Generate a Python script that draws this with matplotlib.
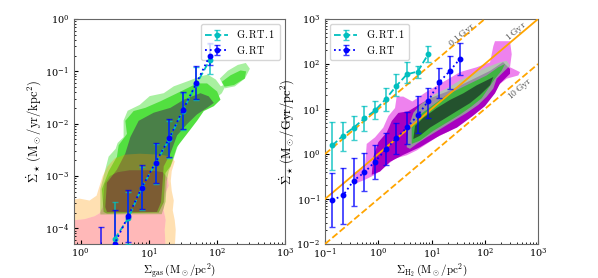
import numpy as np
import matplotlib
matplotlib.use("Agg")
import matplotlib.pyplot as plt
from matplotlib.path import Path
from matplotlib.patches import PathPatch

plt.rcParams['mathtext.fontset'] = 'cm'
plt.rcParams['font.family'] = ['serif']
plt.rcParams['font.serif'] = ['DejaVu Serif']

#################   KS relation, left panel (gas)   #################

gas_x = [2.0, 3.16, 5.0, 7.9, 12.6, 20.0, 31.6, 50.0, 79.0]
gas_rt = [2.5e-5, 5.1e-5, 1.7e-4, 6.0e-4, 1.8e-3, 5.2e-3, 1.8e-2, 5.9e-2, 0.20]
gas_rt_hi = [1.04e-4, 2.2e-4, 5.4e-4, 1.6e-3, 4.2e-3, 1.2e-2, 0.040, 0.124, 0.35]
gas_rt_lo = [1e-6, 1e-6, 5.4e-5, 2.3e-4, 7.2e-4, 2.3e-3, 8.0e-3, 0.029, 0.13]

gas_x1 = [3.16, 5.0, 7.9, 12.6, 20.0, 31.6, 50.0, 79.0]
gas_rt1 = [6.2e-5, 1.55e-4, 5.9e-4, 1.75e-3, 5.0e-3, 1.75e-2, 5.7e-2, 0.165]
gas_rt1_hi = [3.2e-4, 5.0e-4, 1.5e-3, 4.0e-3, 1.1e-2, 0.038, 0.12, 0.33]
gas_rt1_lo = [1e-6, 5.0e-5, 2.2e-4, 7.0e-4, 2.2e-3, 7.5e-3, 0.028, 0.087]

# contour outlines, (log10 Sigma_gas, log10 Sigma_SFR)
gas_c_orange = [(-0.2, -4.4), (-0.2, -3.47), (-0.015, -3.433), (0.132, -3.47), (0.235, -3.377),
                (0.279, -3.19), (0.324, -3.004), (0.397, -2.817), (0.5, -2.668), (0.647, -2.593),
                (0.868, -2.575), (1.162, -2.593), (1.338, -2.631), (1.382, -2.724), (1.338, -2.91),
                (1.324, -3.097), (1.338, -3.284), (1.368, -3.47), (1.353, -3.657), (1.382, -3.843),
                (1.397, -4.03), (1.382, -4.4)]
gas_c_red = [(-0.2, -4.4), (-0.2, -3.862), (0.059, -3.825), (0.206, -3.769), (0.279, -3.713),
             (0.324, -3.601), (0.338, -3.377), (0.353, -3.153), (0.426, -3.004), (0.544, -2.929),
             (0.721, -2.892), (1.015, -2.892), (1.206, -2.929), (1.279, -3.041), (1.294, -3.19),
             (1.25, -3.321), (1.235, -3.47), (1.221, -3.657), (1.25, -3.843), (1.235, -4.03),
             (1.25, -4.4)]
gas_c_light = [(0.29, -3.737), (0.29, -3.252), (0.363, -2.879), (0.412, -2.631), (0.515, -2.481),
               (0.544, -2.369), (0.632, -2.257), (0.632, -1.94), (0.691, -1.754), (0.868, -1.642),
               (1.015, -1.474), (1.221, -1.418), (1.368, -1.287), (1.603, -1.175), (1.75, -1.101),
               (1.868, -1.063), (1.985, -1.157), (2.059, -1.287), (2.147, -1.231), (2.074, -1.418),
               (1.956, -1.549), (1.824, -1.66), (1.691, -1.828), (1.588, -2.034), (1.485, -2.257),
               (1.412, -2.481), (1.368, -2.668), (1.294, -2.91), (1.265, -3.097), (1.25, -3.489),
               (1.191, -3.731)]
gas_c_light_blob = [(2.044, -1.138), (2.162, -0.989), (2.309, -0.877), (2.426, -0.84),
                    (2.485, -0.951), (2.412, -1.138), (2.265, -1.287), (2.118, -1.325)]
gas_c_lime = [(0.338, -3.688), (0.313, -3.252), (0.412, -2.91), (0.534, -2.631), (0.559, -2.413),
              (0.681, -2.196), (0.657, -1.946), (0.779, -1.759), (0.951, -1.698), (1.172, -1.573),
              (1.368, -1.45), (1.515, -1.356), (1.71, -1.231), (1.857, -1.231), (2.004, -1.386),
              (2.054, -1.543), (1.956, -1.666), (1.809, -1.759), (1.71, -1.946), (1.563, -2.196),
              (1.416, -2.444), (1.368, -2.631), (1.319, -2.817), (1.246, -2.942), (1.221, -3.502),
              (1.147, -3.7), (0.387, -3.718)]
gas_c_lime_blob = [(2.074, -1.2), (2.201, -1.076), (2.348, -0.983), (2.43, -1.001),
                   (2.41, -1.138), (2.25, -1.263), (2.113, -1.293)]
gas_c_dark = [(0.363, -3.595), (0.387, -3.129), (0.534, -2.879), (0.657, -2.569), (0.731, -2.257),
              (0.853, -1.946), (1.074, -1.791), (1.319, -1.698), (1.515, -1.543), (1.76, -1.418),
              (1.882, -1.479), (1.956, -1.604), (1.857, -1.698), (1.71, -1.823), (1.563, -2.009),
              (1.416, -2.226), (1.319, -2.569), (1.221, -2.817), (1.196, -3.252), (1.181, -3.502),
              (1.122, -3.688), (0.387, -3.688)]

#################   right panel (H2)   #################

h2_x = [0.137, 0.218, 0.345, 0.55, 0.87, 1.38, 2.18, 3.45, 5.5, 8.7, 13.8, 21.8, 34.5]
h2_rt = [0.095, 0.12, 0.257, 0.39, 0.68, 1.26, 2.24, 3.9, 7.2, 15.1, 38.9, 69.0, 132.0]
h2_rt_hi = [0.37, 0.48, 0.82, 1.07, 1.55, 2.9, 5.0, 8.5, 19.0, 29.5, 81.0, 151.0, 288.0]
h2_rt_lo = [0.024, 0.028, 0.071, 0.148, 0.275, 0.56, 1.02, 1.68, 3.0, 6.3, 17.4, 27.5, 56.0]

h2_x1 = [0.137, 0.218, 0.345, 0.55, 0.87, 1.38, 2.18, 3.45, 5.5, 8.7]
h2_rt1 = [1.55, 2.57, 3.86, 6.2, 9.3, 16.6, 32.4, 59.0, 68.0, 166.0]
h2_rt1_hi = [5.1, 5.1, 6.9, 11.5, 14.8, 29.5, 59.0, 110.0, 89.0, 251.0]
h2_rt1_lo = [0.44, 1.16, 2.04, 3.27, 5.9, 9.1, 19.1, 37.0, 49.0, 110.0]

h2_c_violet = [(-0.469, -0.428), (-0.249, -0.283), (-0.217, 0.224), (-0.061, 0.37), (0.095, 0.587),
               (0.189, 0.841), (0.315, 1.022), (0.346, 1.276), (0.47, 1.276), (0.639, 1.167),
               (0.91, 1.385), (1.222, 1.602), (1.535, 1.82), (1.849, 1.928), (2.099, 2.037),
               (2.161, 2.398), (2.192, 2.507), (2.474, 2.507), (2.506, 2.217), (2.474, 1.928),
               (2.662, 1.82), (2.63, 1.746), (2.412, 1.674), (2.254, 1.528), (2.099, 1.276),
               (1.973, 1.093), (1.817, 0.913), (1.597, 0.733), (1.347, 0.515), (1.098, 0.37),
               (0.91, 0.224), (0.722, 0.08), (0.534, -0.028), (0.315, -0.102), (0.127, -0.283),
               (-0.061, -0.463), (-0.249, -0.572), (-0.405, -0.646)]
h2_c_purple = [(-0.123, -0.463), (-0.093, -0.065), (0.001, 0.261), (0.159, 0.478), (0.253, 0.733),
               (0.377, 0.913), (0.564, 0.95), (0.722, 1.065), (0.972, 1.239), (1.347, 1.413),
               (1.723, 1.63), (2.099, 1.848), (2.343, 2.043), (2.474, 1.891), (2.474, 1.783),
               (2.286, 1.565), (2.192, 1.348), (2.005, 1.065), (1.779, 0.848), (1.479, 0.587),
               (1.16, 0.413), (0.784, 0.152), (0.465, -0.022), (0.221, -0.174), (0.033, -0.391)]
h2_c_light = [(0.534, 0.152), (0.564, 0.587), (0.658, 0.913), (0.784, 1.093), (1.034, 1.311),
              (1.285, 1.457), (1.535, 1.637), (1.785, 1.783), (2.037, 1.928), (2.286, 2.037),
              (2.412, 2.072), (2.474, 1.963), (2.348, 1.82), (2.224, 1.674), (2.161, 1.457),
              (2.037, 1.276), (1.879, 1.093), (1.661, 0.913), (1.409, 0.733), (1.16, 0.55),
              (0.91, 0.37), (0.722, 0.224), (0.596, 0.115)]
h2_c_mid = [(0.628, 0.224), (0.628, 0.587), (0.784, 0.876), (1.034, 1.093), (1.285, 1.311),
            (1.535, 1.457), (1.785, 1.602), (2.037, 1.746), (2.254, 1.928), (2.38, 2.0),
            (2.318, 1.854), (2.192, 1.674), (2.067, 1.457), (1.943, 1.239), (1.755, 1.059),
            (1.535, 0.876), (1.285, 0.696), (1.034, 0.515), (0.784, 0.298)]
h2_c_dark = [(0.658, 0.333), (0.69, 0.624), (0.846, 0.804), (1.098, 1.022), (1.347, 1.202),
             (1.597, 1.348), (1.849, 1.528), (2.037, 1.637), (2.161, 1.711), (2.099, 1.528),
             (1.911, 1.311), (1.723, 1.13), (1.473, 0.95), (1.222, 0.767), (0.972, 0.587),
             (0.784, 0.407)]

depletion_gyr = [0.1, 1.0, 10.0]
depletion_style = ['--', '-', '--']
depletion_text = [r'$0.1\,\mathrm{Gyr}$', r'$1\,\mathrm{Gyr}$', r'$10\,\mathrm{Gyr}$']
depletion_text_x = [37.0, 400.0, 465.0]
depletion_text_y = [450.0, 525.0, 28.6]
line_x = [0.1, 1000.0]


def ring(ax, outer, holes=(), **kw):
    # polygon in log10 space -> patch in data space, holes wound the other way
    verts, codes = [], []
    for k, poly in enumerate([outer, *holes]):
        p = np.asarray(poly, dtype=float)
        area = 0.5 * np.sum(p[:, 0] * np.roll(p[:, 1], -1) - np.roll(p[:, 0], -1) * p[:, 1])
        if (k == 0) != (area > 0):
            p = p[::-1]
        p = 10 ** p
        verts += list(p) + [p[0]]
        codes += [Path.MOVETO] + [Path.LINETO] * (len(p) - 1) + [Path.CLOSEPOLY]
    ax.add_patch(PathPatch(Path(verts, codes), lw=0, **kw))


def points(ax, x, y, lo, hi, color, ls, label):
    y = np.asarray(y)
    yerr = [y - np.asarray(lo), np.asarray(hi) - y]
    ax.errorbar(x, y, yerr=yerr, fmt='o', ls=ls, color=color, ms=3.2, lw=1.3,
                elinewidth=1.3, capsize=2.2, capthick=1.0, label=label, zorder=5,
                ecolor=matplotlib.colors.to_rgba(color, 0.75))


fig = plt.figure(figsize=(5.98, 2.78), dpi=100)
ax1 = fig.add_axes([0.1237, 0.1223, 0.3528, 0.8093])
ax2 = fig.add_axes([0.5435, 0.1223, 0.3562, 0.8093])

#################   left   #################
ring(ax1, gas_c_light, color='#a8f0a0', zorder=1)
ring(ax1, gas_c_light_blob, color='#a8f0a0', zorder=1)
ring(ax1, gas_c_lime, color='#52e040', zorder=1.1)
ring(ax1, gas_c_lime_blob, color='#52e040', zorder=1.1)
ring(ax1, gas_c_dark, color='#4a8048', zorder=1.2)
ring(ax1, gas_c_orange, holes=[gas_c_red], color='#ff9a00', alpha=0.3, zorder=1.5)
ring(ax1, gas_c_red, color='#ff0000', alpha=0.28, zorder=1.5)

points(ax1, gas_x1, gas_rt1, gas_rt1_lo, gas_rt1_hi, 'c', '--', r'$\mathrm{G.RT.1}$')
points(ax1, gas_x, gas_rt, gas_rt_lo, gas_rt_hi, 'b', ':', r'$\mathrm{G.RT}$')

ax1.set_xscale('log')
ax1.set_yscale('log')
ax1.set_xlim(0.8, 1000)
ax1.set_ylim(5e-5, 1)
ax1.set_xlabel(r'$\Sigma_{\rm gas}\,(\mathrm{M_\odot/pc^2})$', fontsize=8, labelpad=0)
ax1.set_ylabel(r'$\dot{\Sigma}_\star\,(\mathrm{M_\odot/yr/kpc^2})$', fontsize=9, labelpad=1)
ax1.legend(loc='upper right', fontsize=7.5, handlelength=2.2, borderpad=0.4, labelspacing=0.3)

#################   right   #################
ring(ax2, h2_c_violet, color='#ee82ee', zorder=1)
ring(ax2, h2_c_purple, color='#a800c0', zorder=1.1)
ring(ax2, h2_c_light, color='#90ee90', alpha=0.6, zorder=1.2)
ring(ax2, h2_c_mid, color='#22c022', alpha=0.75, zorder=1.3)
ring(ax2, h2_c_dark, color='#1e3a2a', alpha=0.8, zorder=1.4)

for tau, ls, txt, tx, ty in zip(depletion_gyr, depletion_style, depletion_text,
                                depletion_text_x, depletion_text_y):
    ax2.plot(line_x, np.array(line_x) / tau, ls=ls, color='orange', lw=1.3, zorder=3)
    ax2.text(tx, ty, txt, rotation=40.8, fontsize=7, ha='center', va='center', color='0.3')

points(ax2, h2_x1, h2_rt1, h2_rt1_lo, h2_rt1_hi, 'c', '--', r'$\mathrm{G.RT.1}$')
points(ax2, h2_x, h2_rt, h2_rt_lo, h2_rt_hi, 'b', ':', r'$\mathrm{G.RT}$')

ax2.set_xscale('log')
ax2.set_yscale('log')
ax2.set_xlim(0.1, 1000)
ax2.set_ylim(0.01, 1000)
ax2.set_xlabel(r'$\Sigma_{\rm H_2}\,(\mathrm{M_\odot/pc^2})$', fontsize=8, labelpad=0)
ax2.set_ylabel(r'$\dot{\Sigma}_\star\,(\mathrm{M_\odot/Gyr/pc^2})$', fontsize=9, labelpad=0)
ax2.legend(loc='upper left', fontsize=7.5, handlelength=2.2, borderpad=0.4, labelspacing=0.3)

for ax in (ax1, ax2):
    ax.tick_params(which='both', direction='in', labelsize=7)
    ax.tick_params(axis='x', which='both', pad=2)
    ax.tick_params(axis='y', which='both', pad=3.5)
    ax.tick_params(which='major', length=3)
    ax.tick_params(which='minor', length=1.5)
    for s in ax.spines.values():
        s.set_color('0.4')

fig.savefig('out.png', dpi=100)
